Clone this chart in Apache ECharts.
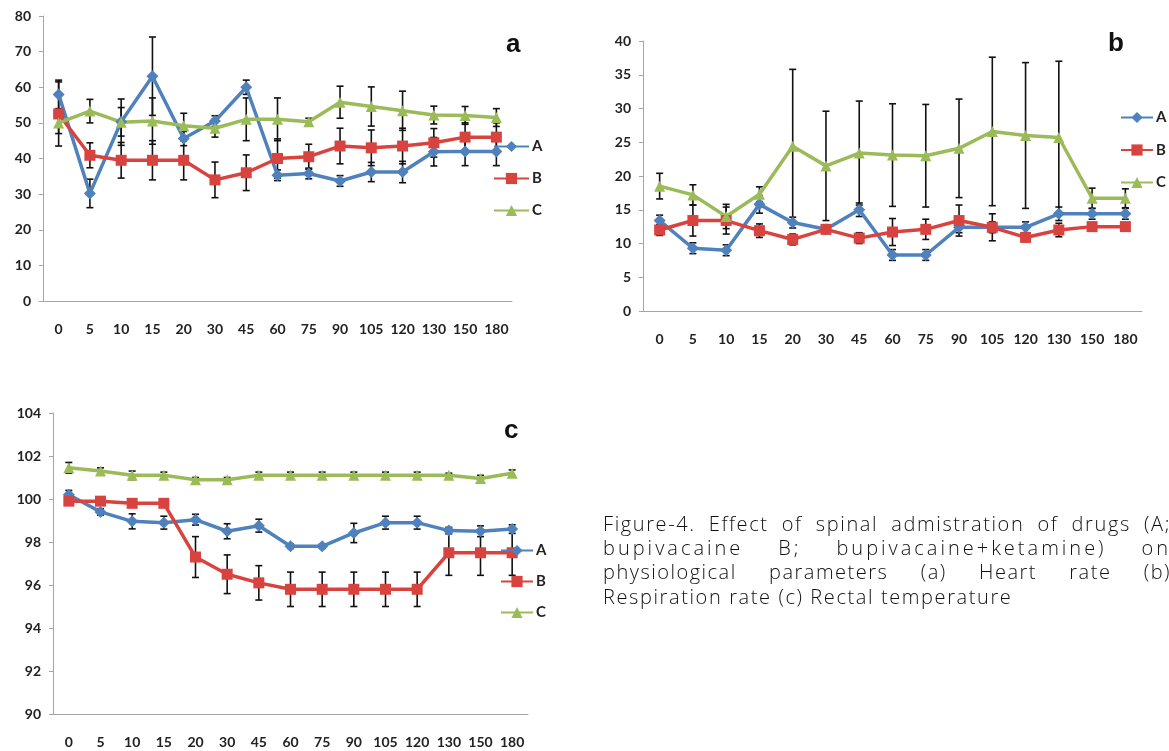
<!DOCTYPE html>
<html>
<head>
<meta charset="utf-8">
<title>Figure-4</title>
<script src="https://cdn.jsdelivr.net/npm/echarts@6/dist/echarts.min.js"></script>
<style>
  html, body { margin: 0; padding: 0; background: #fff; overflow: hidden; }
  #chart { width: 1169px; height: 751px; }
  .cap { position: absolute; left: 603px; width: 568px; font-family: 'Open Sans', sans-serif;
         font-weight: 300; font-size: 20px; line-height: 24px; color: #111; white-space: nowrap; }
  .just { text-align: justify; text-align-last: justify; white-space: normal; }
</style>
</head>
<body>
<div id="chart"></div>
<div class="cap just" style="top:512px; letter-spacing:1.6px">Figure-4. Effect of spinal admistration of drugs (A;</div>
<div class="cap just" style="top:536px; letter-spacing:3px">bupivacaine B; bupivacaine+ketamine) on</div>
<div class="cap just" style="top:560px; letter-spacing:1.5px">physiological parameters (a) Heart rate (b)</div>
<div class="cap" style="top:585px; letter-spacing:1.6px">Respiration rate (c) Rectal temperature</div>
<script>
// time points (min)
const times = ['0', '5', '10', '15', '20', '30', '45', '60', '75', '90', '105', '120', '130', '150', '180']

// (a) heart rate
const hrA = [58, 30.2, 50.3, 63.1, 45.6, 50.5, 60, 35.3, 35.8, 33.7, 36.2, 36.2, 41.9, 42, 42]
const hrB = [52.5, 40.9, 39.5, 39.5, 39.5, 34, 36, 40, 40.5, 43.5, 43, 43.5, 44.4, 46, 46]
const hrC = [50, 53.3, 50.2, 50.5, 49.2, 48.5, 51, 51, 50.3, 55.8, 54.6, 53.4, 52.2, 52.1, 51.5]
const hrErrA = [4, 4, 4, 11, 2, 1.5, 2, 1.5, 1.5, 1.5, 2.7, 3, 4, 4, 4]
const hrErrB = [9, 3.5, 5, 5.5, 5.5, 5, 5, 5.5, 3.5, 5, 5, 5, 4, 4, 4]
const hrErrC = [3, 3.3, 6.5, 6.5, 3.5, 2.5, 6, 6, 1, 4.5, 5.5, 5.5, 2.5, 2.5, 2.5]

// (b) respiration rate
const rrA = [13.4, 9.3, 9.0, 15.8, 13.1, 12.1, 15, 8.3, 8.3, 12.4, 12.4, 12.4, 14.4, 14.4, 14.4]
const rrB = [12, 13.4, 13.4, 11.9, 10.6, 12.1, 10.8, 11.7, 12.1, 13.4, 12.4, 10.9, 12, 12.5, 12.5]
const rrC = [18.5, 17.2, 14, 17.3, 24.4, 21.5, 23.4, 23.1, 23, 24.1, 26.6, 26, 25.7, 16.7, 16.7]
const rrErrA = [0.8, 0.8, 0.8, 1.3, 0.8, 0.6, 1, 0.8, 0.8, 0.8, 0.8, 0.8, 1, 0.8, 0.8]
const rrErrB = [0.8, 2.3, 2, 1, 0.8, 0.6, 0.8, 2, 1.5, 2.3, 2, 0.6, 1, 0.6, 0.6]
const rrErrC = [1.9, 1.5, 1.8, 1.1, 11.4, 8.1, 7.7, 7.6, 7.6, 7.3, 11, 10.8, 11.3, 1.5, 1.4]

// (c) rectal temperature
const tempA = [100.2, 99.4, 98.96, 98.9, 99.04, 98.5, 98.76, 97.8, 97.8, 98.42, 98.9, 98.9, 98.53, 98.5, 98.6]
const tempB = [99.9, 99.9, 99.8, 99.8, 97.3, 96.5, 96.1, 95.8, 95.8, 95.8, 95.8, 95.8, 97.5, 97.5, 97.5]
const tempC = [101.45, 101.3, 101.1, 101.1, 100.9, 100.9, 101.1, 101.1, 101.1, 101.1, 101.1, 101.1, 101.1, 100.95, 101.2]
const tempErrA = [0.2, 0.15, 0.35, 0.3, 0.25, 0.35, 0.3, 0.1, 0.1, 0.45, 0.3, 0.3, 0.15, 0.25, 0.2]
const tempErrB = [0.15, 0.15, 0.1, 0.1, 0.95, 0.9, 0.8, 0.8, 0.8, 0.8, 0.8, 0.8, 1.05, 1.05, 1.05]
const tempErrC = [0.25, 0.15, 0.2, 0.15, 0.1, 0.1, 0.15, 0.15, 0.15, 0.15, 0.15, 0.15, 0.1, 0.15, 0.15]

const groups = ['A', 'B', 'C']
const colors = ['#4f81bd', '#d9433f', '#9bbb59']
const symbols = ['diamond', 'rect', 'triangle']
const symSizes = [12, 11, 11]

const labelFont = { fontFamily: 'Lato', fontWeight: 'bold', fontSize: 14, color: '#222' }

function xAxisOf(i) {
  return {
    type: 'category', gridIndex: i, data: times, boundaryGap: true,
    axisLine: { lineStyle: { color: '#a6a6a6' } },
    axisTick: { length: 5, lineStyle: { color: '#a6a6a6' } },
    axisLabel: Object.assign({ margin: 21, interval: 0 }, labelFont)
  }
}
function yAxisOf(i, min, max, interval) {
  return {
    type: 'value', gridIndex: i, min: min, max: max, interval: interval,
    axisLine: { show: true, lineStyle: { color: '#a6a6a6' } },
    axisTick: { show: true, length: 4, lineStyle: { color: '#a6a6a6' } },
    splitLine: { show: false },
    axisLabel: Object.assign({ margin: 12 }, labelFont)
  }
}

// error bars: vertical line with caps, drawn through the axis scale
function errRender(params, api) {
  const x = api.value(0), v = api.value(1), e = api.value(2)
  const hi = api.coord([x, v + e])
  const lo = api.coord([x, v - e])
  const cap = 3.5
  const st = { stroke: '#111', lineWidth: 1.6 }
  return {
    type: 'group',
    children: [
      { type: 'line', shape: { x1: hi[0], y1: hi[1], x2: lo[0], y2: lo[1] }, style: st },
      { type: 'line', shape: { x1: hi[0] - cap, y1: hi[1], x2: hi[0] + cap, y2: hi[1] }, style: st },
      { type: 'line', shape: { x1: lo[0] - cap, y1: lo[1], x2: lo[0] + cap, y2: lo[1] }, style: st }
    ]
  }
}

function panelSeries(i, vals, errs) {
  const out = []
  vals.forEach((arr, k) => {
    out.push({
      type: 'custom', xAxisIndex: i, yAxisIndex: i, z: 1,
      renderItem: errRender, encode: { x: 0, y: 1 },
      data: arr.map((v, j) => [j, v, errs[k][j]])
    })
  })
  vals.forEach((arr, k) => {
    out.push({
      name: groups[k], type: 'line', xAxisIndex: i, yAxisIndex: i, z: 2,
      data: arr, symbol: symbols[k], symbolSize: symSizes[k],
      lineStyle: { color: colors[k], width: 3.5 },
      itemStyle: { color: colors[k] }
    })
  })
  return out
}

function legendOf(left, top, gap, width) {
  return {
    orient: 'vertical', left: left, top: top, itemGap: gap, padding: 0,
    itemWidth: width, itemHeight: 14, data: groups,
    textStyle: { fontFamily: 'Lato', fontWeight: 'bold', fontSize: 15, color: '#222', padding: [0, 0, 0, -2] }
  }
}

const chart = echarts.init(document.getElementById('chart'))
chart.setOption({
  animation: false,
  grid: [
    { left: 43, top: 16, width: 469, height: 285 },
    { left: 643, top: 41, width: 499, height: 270 },
    { left: 53, top: 413, width: 475, height: 301 }
  ],
  xAxis: [xAxisOf(0), xAxisOf(1), xAxisOf(2)],
  yAxis: [yAxisOf(0, 0, 80, 10), yAxisOf(1, 0, 40, 5), yAxisOf(2, 90, 104, 2)],
  legend: [
    legendOf(493, 139, 17, 35),
    legendOf(1120, 110, 17.5, 32),
    legendOf(500, 543, 16, 32)
  ],
  graphic: [
    { type: 'text', left: 506, top: 32, style: { text: 'a', font: 'bold 26px "Liberation Sans"', fill: '#111' } },
    { type: 'text', left: 1108, top: 31, style: { text: 'b', font: 'bold 26px "Liberation Sans"', fill: '#111' } },
    { type: 'text', left: 504, top: 418, style: { text: 'c', font: 'bold 26px "Liberation Sans"', fill: '#111' } }
  ],
  series: [].concat(
    panelSeries(0, [hrA, hrB, hrC], [hrErrA, hrErrB, hrErrC]),
    panelSeries(1, [rrA, rrB, rrC], [rrErrA, rrErrB, rrErrC]),
    panelSeries(2, [tempA, tempB, tempC], [tempErrA, tempErrB, tempErrC])
  )
})
</script>
</body>
</html>
